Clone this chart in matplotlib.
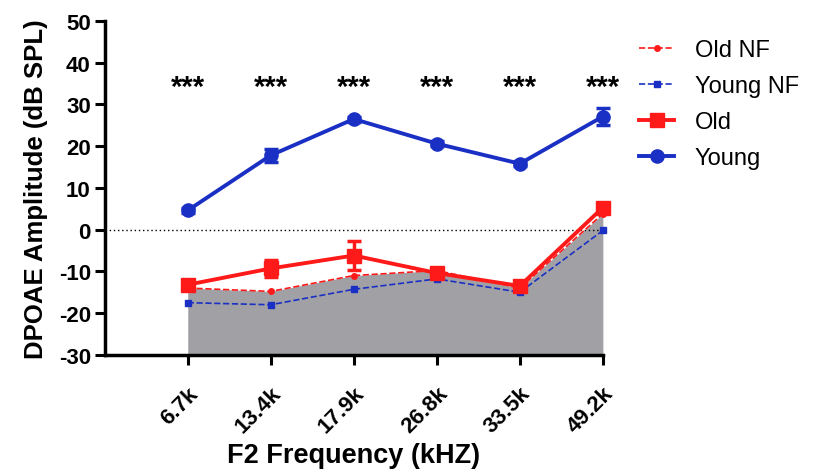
import matplotlib.pyplot as plt
from matplotlib.lines import Line2D
import numpy as np

plt.rcParams['font.family'] = ['Liberation Sans', 'DejaVu Sans']

freqs = ['6.7k', '13.4k', '17.9k', '26.8k', '33.5k', '49.2k']
young = [4.6, 17.8, 26.5, 20.6, 15.8, 27.1]
young_err = [0.6, 1.6, 0.6, 0.6, 0.6, 2.0]
old = [-13.2, -9.3, -6.2, -10.4, -13.5, 5.3]
old_err = [0.8, 2.0, 3.5, 0.8, 0.8, 0.8]
old_nf = [-14.0, -14.8, -11.0, -9.8, -14.0, 3.8]
young_nf = [-17.5, -18.0, -14.3, -11.8, -15.0, -0.2]
stars = ['***'] * 6

red = '#ff1a1a'
blue = '#1a2fc4'
x = np.arange(1, len(freqs) + 1)

fig = plt.figure(figsize=(8.18, 4.77), dpi=100)
ax = fig.add_axes([0.128, 0.254, 0.609, 0.700])

ax.fill_between(x, -30, old_nf, color='#a1a1a5', lw=0, zorder=1)
ax.axhline(0, color='black', ls=(0, (1, 2)), lw=1, zorder=2)

ax.plot(x, old_nf, ls='--', color=red, lw=1.2, marker='o', ms=4,
        zorder=3, clip_on=False)
ax.plot(x, young_nf, ls='--', color=blue, lw=1.2, marker='s', ms=4.5,
        zorder=3, clip_on=False)
ax.errorbar(x, old, yerr=old_err, color=red, lw=2.8, marker='s', ms=10,
            capsize=5, capthick=2.5, elinewidth=2.5, zorder=4, clip_on=False)
ax.errorbar(x, young, yerr=young_err, color=blue, lw=2.8, marker='o', ms=9.5,
            capsize=5, capthick=2.5, elinewidth=2.5, zorder=4, clip_on=False)

for xi, s in zip(x, stars):
    ax.text(xi, 34.3, s, ha='center', va='center', fontsize=21, fontweight='bold')

ax.set_xlim(0, 6)
ax.set_ylim(-30, 50)
ax.set_xticks(x)
ax.set_xticklabels(freqs, rotation=45, ha='right', rotation_mode='anchor',
                   fontsize=16, fontweight='bold')
ax.set_yticks(np.arange(-30, 51, 10))
ax.set_yticklabels([str(v) for v in range(-30, 51, 10)], fontsize=16,
                   fontweight='bold')
ax.tick_params(axis='both', width=2.2, length=7, direction='out')
ax.tick_params(axis='x', pad=13)
ax.tick_params(axis='y', pad=3)
for side in ['top', 'right']:
    ax.spines[side].set_visible(False)
for side in ['left', 'bottom']:
    ax.spines[side].set_linewidth(2.5)

ax.set_ylabel('DPOAE Amplitude (dB SPL)', fontsize=18.5, fontweight='bold',
              labelpad=8)
ax.set_xlabel('F2 Frequency (kHZ)', fontsize=19.5, fontweight='bold', labelpad=4)

handles = [
    Line2D([], [], ls='--', color=red, lw=1.2, marker='o', ms=4),
    Line2D([], [], ls='--', color=blue, lw=1.2, marker='s', ms=4.5),
    Line2D([], [], color=red, lw=2.8, marker='s', ms=10),
    Line2D([], [], color=blue, lw=2.8, marker='o', ms=9.5),
]
labels = ['Old NF', 'Young NF', 'Old', 'Young']
ax.legend(handles, labels, loc='upper left', bbox_to_anchor=(1.03, 1.01),
          frameon=False, fontsize=17, handlelength=1.5, labelspacing=0.6,
          handletextpad=0.85)

fig.savefig('out.png', dpi=100)
